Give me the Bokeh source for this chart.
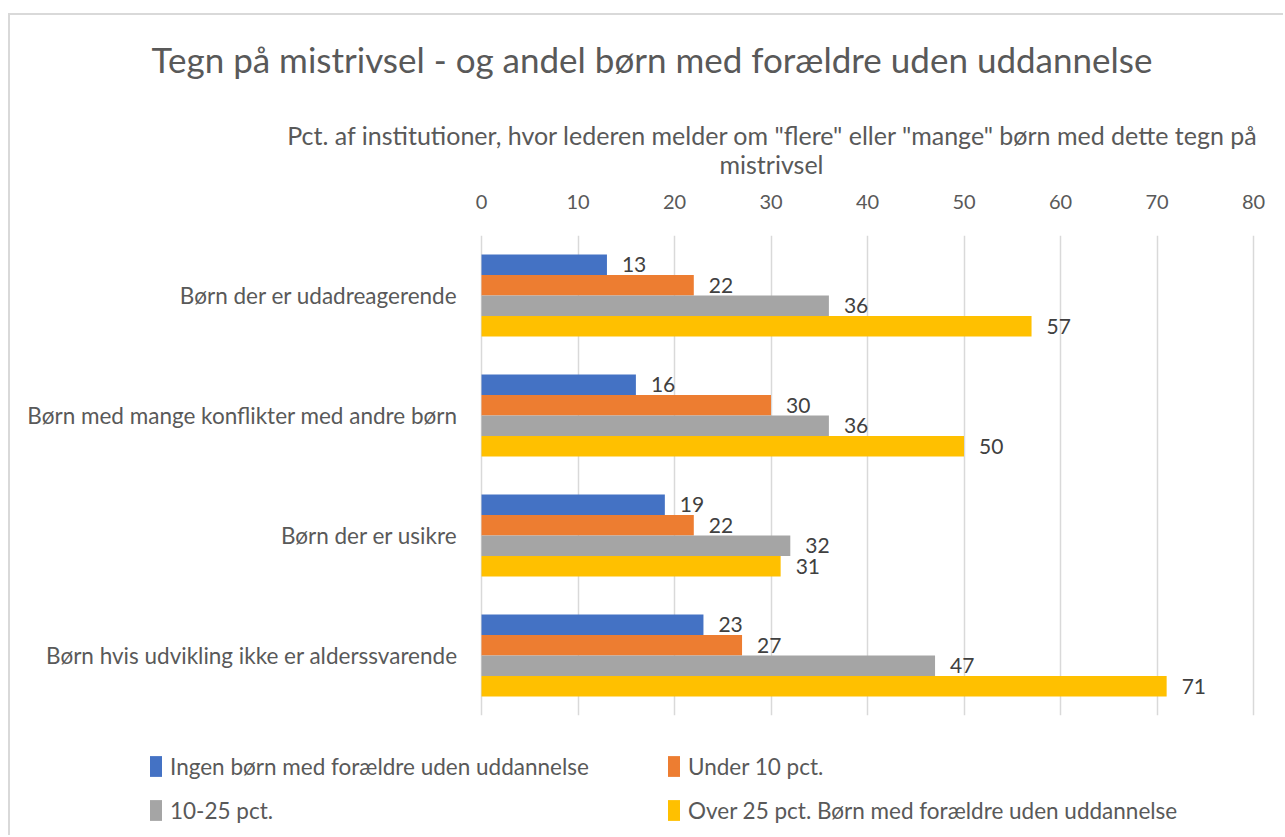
from bokeh.plotting import figure
from bokeh.layouts import column
from bokeh.models import (Range1d, FixedTicker, ColumnDataSource, LabelSet,
                          Legend, LegendItem)
from bokeh.embed import file_html
from bokeh.resources import INLINE
from bokeh.core.properties import value

# ---------------- data ----------------
categories = [
    "Børn der er udadreagerende",
    "Børn med mange konflikter med andre børn",
    "Børn der er usikre",
    "Børn hvis udvikling ikke er alderssvarende",
]
series_names = [
    "Ingen børn med forældre uden uddannelse",
    "Under 10 pct.",
    "10-25 pct.",
    "Over 25 pct. Børn med forældre uden uddannelse",
]
ingen = [13, 16, 19, 23]
under10 = [22, 30, 22, 27]
mellem = [36, 36, 32, 47]
over25 = [57, 50, 31, 71]
x_ticks = [0, 10, 20, 30, 40, 50, 60, 70, 80]
title_text = "Tegn på mistrivsel - og andel børn med forældre uden uddannelse"
axis_title_lines = [
    'Pct. af institutioner, hvor lederen melder om "flere" eller "mange" børn med dette tegn på',
    "mistrivsel",
]
colors = ["#4472C4", "#ED7D31", "#A5A5A5", "#FFC000"]

# ---------------- style ----------------
FONT = "Lato"
TXT = "#595959"
FS_CAT = "22.5px"
FS_TICK = "20px"
FS_DATA = "21px"
FS_AXT = "25px"
FS_TITLE = "35px"

W = 1273
H_TOP, H_MAIN, H_LEG = 165, 540, 115
PLOT_LEFT = 471          # px from canvas left where the value axis starts
PLOT_WIDTH = 772         # px for the 0..80 span
XMAX = x_ticks[-1]
px_per_unit = PLOT_WIDTH / XMAX


def bare(fig):
    fig.axis.visible = False
    fig.grid.visible = False
    fig.outline_line_color = None
    fig.title_location = None
    fig.min_border = 0
    fig.border_fill_color = "white"
    fig.background_fill_color = "white"


# ---------------- top: titles ----------------
pt = figure(width=W, height=H_TOP, x_range=Range1d(0, W), y_range=Range1d(H_TOP, 0),
            toolbar_location=None, output_backend="svg", min_border=0)
bare(pt)
pt.text(x=[641.5], y=[43], text=[title_text], text_align="center",
        text_baseline="middle", text_font=value(FONT), text_font_size=FS_TITLE,
        text_color=TXT)
pt.text(x=[762.5, 761], y=[119, 148], text=axis_title_lines, text_align="center",
        text_baseline="middle", text_font=value(FONT), text_font_size=FS_AXT,
        text_color=TXT)

# ---------------- main chart ----------------
n = len(categories)
ypos = [n - i - 0.5 for i in range(n)]
bar_h = 0.171
x_start = -PLOT_LEFT / px_per_unit
x_end = x_start + W / px_per_unit

p = figure(width=W, height=H_MAIN, x_range=Range1d(x_start, x_end), y_range=Range1d(0, n),
           x_axis_location="above", toolbar_location=None, output_backend="svg",
           min_border_left=0, min_border_right=0, min_border_top=55,
           min_border_bottom=5)
p.title_location = None
p.outline_line_color = None
p.background_fill_color = "white"
p.border_fill_color = "white"
p.yaxis.visible = False

xa = p.xaxis[0]
xa.ticker = FixedTicker(ticks=x_ticks)
xa.axis_line_color = None
xa.major_tick_line_color = None
xa.minor_tick_line_color = None
xa.major_tick_in = 0
xa.major_tick_out = 0
xa.major_label_standoff = 27
xa.major_label_text_font = FONT
xa.major_label_text_font_size = FS_TICK
xa.major_label_text_color = TXT

p.ygrid.grid_line_color = None
p.xgrid.ticker = FixedTicker(ticks=x_ticks)
p.xgrid.grid_line_color = "#D9D9D9"
p.xgrid.grid_line_width = 1.5

# category labels, right-aligned just left of the value axis origin
p.text(x=[0] * n, y=ypos, text=categories, x_offset=-24, text_align="right",
       text_baseline="middle", text_font=value(FONT), text_font_size=FS_CAT,
       text_color=TXT)

series = [ingen, under10, mellem, over25]
for k, vals in enumerate(series):
    off = (1.5 - k) * bar_h
    src = ColumnDataSource(dict(
        y=[y + off for y in ypos],
        v=vals,
        t=[str(v) for v in vals],
    ))
    p.hbar(y="y", left=0, right="v", height=bar_h, source=src,
           fill_color=colors[k], line_color=None)
    p.add_layout(LabelSet(x="v", y="y", text="t", source=src, x_offset=15,
                          text_baseline="middle", text_align="left",
                          text_font=value(FONT), text_font_size=FS_DATA,
                          text_color="#404040"))

# ---------------- legend ----------------
pl = figure(width=W, height=H_LEG, x_range=Range1d(0, 1), y_range=Range1d(0, 1),
            toolbar_location=None, output_backend="svg", min_border=0)
bare(pl)
items = []
for k, name in enumerate(series_names):
    # zero-size proxy glyph so the legend can draw its colour swatch
    r = pl.quad(left=[0], right=[0], bottom=[0], top=[0], fill_color=colors[k],
                line_color=None)
    items.append(LegendItem(label=name, renderers=[r]))
legend = Legend(items=items, orientation="horizontal", ncols=2,
                location=(138, 10), glyph_width=15, glyph_height=26,
                label_standoff=7, spacing=14, label_height=30, label_width=482,
                padding=0, margin=0, border_line_color=None, background_fill_alpha=0,
                label_text_font=FONT, label_text_font_size=FS_CAT,
                label_text_color=TXT)
pl.add_layout(legend, "center")

layout = column(pt, p, pl, spacing=0)
layout.styles = {"margin-top": "13px", "margin-left": "8px",
                 "border-top": "2px solid #D9D9D9", "border-left": "2px solid #D9D9D9"}

open("out.html", "w").write(file_html(layout, INLINE))
